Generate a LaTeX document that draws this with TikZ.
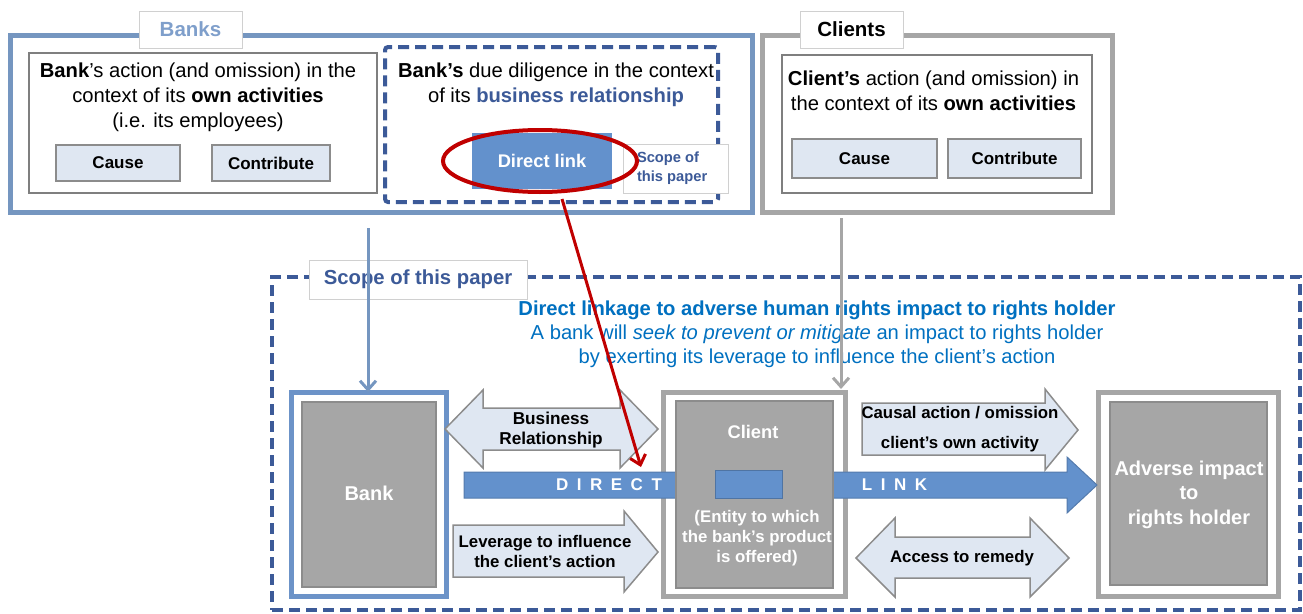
\documentclass[tikz,border=0pt]{standalone}
\usepackage{fontspec}
\setmainfont{Liberation Sans}
\usetikzlibrary{arrows.meta,calc}
\definecolor{frameblue}{HTML}{7596C0}
\definecolor{labelblue}{HTML}{7F9FCB}
\definecolor{dashblue}{HTML}{3C5A98}
\definecolor{titleblue}{HTML}{0070C0}
\definecolor{barblue}{HTML}{6391CC}
\definecolor{boxgray}{HTML}{A6A6A6}
\definecolor{innergray}{HTML}{7F7F7F}
\definecolor{lightfill}{HTML}{DFE7F2}
\definecolor{arrowedge}{HTML}{8C8C8C}
\definecolor{redc}{HTML}{C00000}
\definecolor{labelborder}{HTML}{D0D0D0}
\definecolor{bankblue}{HTML}{6C93C8}
\newcommand{\fsz}[2]{\fontsize{#1}{#2}\selectfont}
\newcommand{\lsp}{\hspace{8.5pt}}
\begin{document}
\begin{tikzpicture}[x=1pt,y=-1pt,
  every node/.style={inner sep=0pt, outer sep=0pt},
  frame/.style={draw, line width=5pt},
  tablabel/.style={draw=labelborder, line width=1pt, fill=white, font=\bfseries\fsz{20.5}{24}},
  innerbox/.style={draw=innergray, line width=2.5pt, fill=white},
  btn/.style={draw=arrowedge, line width=1.5pt, fill=lightfill, font=\bfseries\fsz{17}{20}},
  dashframe/.style={draw=dashblue, line width=4pt, dash pattern=on 11pt off 6pt},
  graybox/.style={fill=boxgray, draw=arrowedge, line width=1.2pt},
  whitetext/.style={text=white, font=\bfseries\fsz{19}{24}, align=center},
  blockarrow/.style={fill=lightfill, draw=arrowedge, line width=1.5pt},
  bartxt/.style={text=white, font=\bfseries\fsz{17}{20}},
  arrtxt/.style={font=\bfseries\fsz{16.8}{20}, align=center},
  bodytxt/.style={font=\fsz{20.2}{25}, align=center},
  tip/.style={-{Straight Barb[length=9pt,width=16pt,line width=3pt]}, line width=3pt}
]
\useasboundingbox (0,0) rectangle (1303,613);

% ---------------- top: Banks ----------------
\node[frame, draw=frameblue, minimum width=742, minimum height=177] (banksframe) at (381,123.5) {};
\node[tablabel, text=labelblue, minimum width=103, minimum height=37] (bankslabel) at (190.5,29.5) {Banks};

\node[innerbox, minimum width=348, minimum height=140] (bankown) at (203,123) {};
\node[bodytxt] (bankowntxt) at (198,97) {\textbf{Bank}’s action (and omission) in the\\context of its \textbf{own activities}\\(i.e. its employees)};
\node[btn, minimum width=124, minimum height=36] (bcause) at (118,163) {Cause};
\node[btn, minimum width=118, minimum height=36] (bcontrib) at (271,163) {Contribute};

\node[dashframe, fill=white, minimum width=333, minimum height=155, rounded corners=3pt] (duedil) at (551.5,124.5) {};
\node[bodytxt] (duediltxt) at (556,84.5) {\textbf{Bank’s} due diligence in the context\\of its \textcolor{dashblue}{\textbf{business relationship}}};
\node[fill=barblue, minimum width=140, minimum height=56, text=white, font=\bfseries\fsz{18.3}{20}] (dlink) at (542,161) {Direct link};
\node[draw=labelborder, line width=1pt, fill=white, minimum width=105, minimum height=49] (scopesmall) at (675.5,168.5) {};
\node[text=dashblue, font=\bfseries\fsz{14.7}{19}, align=left, anchor=west] (scopesmalltxt) at (637,168.5) {Scope of\\this paper};
\draw[redc, line width=4pt] (540,161) ellipse [x radius=97, y radius=31];
\node (dlinkring) at (540,161) {};

% ---------------- top: Clients ----------------
\node[frame, draw=boxgray, minimum width=350, minimum height=177] (clientsframe) at (937,123.5) {};
\node[tablabel, minimum width=103, minimum height=37] (clientslabel) at (851.5,29.5) {Clients};
\node[innerbox, minimum width=310, minimum height=138] (clientown) at (937,124) {};
\node[bodytxt] (clientowntxt) at (933.5,90.5) {\textbf{Client’s} action (and omission) in\\the context of its \textbf{own activities}};
\node[btn, minimum width=145, minimum height=39] (ccause) at (864.5,158.5) {Cause};
\node[btn, minimum width=133, minimum height=39] (ccontrib) at (1014.5,158.5) {Contribute};

% ---------------- bottom: scope ----------------
\node[dashframe, minimum width=1028, minimum height=333] (scope) at (786,443.5) {};
\node[draw=labelborder, line width=1pt, fill=white, minimum width=218, minimum height=39, text=dashblue, font=\bfseries\fsz{20.3}{24}] (scopelabel) at (418,279.5) {Scope of this paper};

\node[text=titleblue, font=\fsz{20.2}{24}, align=center] (title) at (817,334) {\textbf{Direct linkage to adverse human rights impact to rights holder}\\A bank will \textit{seek to prevent or mitigate} an impact to rights holder\\by exerting its leverage to influence the client’s action};

% outer frames
\node[frame, draw=bankblue, minimum width=155, minimum height=204] (bankframe) at (368.5,494) {};
\node[frame, draw=boxgray, minimum width=182, minimum height=204] (clientframe) at (754,494) {};
\node[frame, draw=boxgray, minimum width=180, minimum height=204] (impactframe) at (1188,494) {};

% block arrows
\draw[blockarrow] (445,429) -- (483,390) -- (483,408) -- (620,408) -- (620,390) -- (658,429) -- (620,468) -- (620,450) -- (483,450) -- (483,468) -- cycle;
\node[arrtxt, font=\bfseries\fsz{17.2}{20}] (brtxt) at (551,430) {Business\\Relationship};
\draw[blockarrow] (453,525) -- (624,525) -- (624,511) -- (658,552) -- (624,592) -- (624,577) -- (453,577) -- cycle;
\node[arrtxt] (levtxt) at (545,551) {Leverage to influence\\the client’s action};
\draw[blockarrow] (862,403) -- (1045,403) -- (1045,389) -- (1078,430) -- (1045,470) -- (1045,455) -- (862,455) -- cycle;
\node[arrtxt, font=\bfseries\fsz{16.8}{30}] (caustxt) at (960,429) {Causal action / omission\\client’s own activity};
\draw[blockarrow] (856,558) -- (895,518) -- (895,537) -- (1030,537) -- (1030,518) -- (1069,558) -- (1030,597) -- (1030,578) -- (895,578) -- (895,597) -- cycle;
\node[arrtxt] (accesstxt) at (962,558) {Access to remedy};

% DIRECT LINK bar
\draw[fill=barblue, draw=barblue!85!black, line width=1pt] (464,472) -- (1067,472) -- (1067,457) -- (1097,485) -- (1067,513) -- (1067,498) -- (464,498) -- cycle;
\node[bartxt] (directtxt) at (609,485) {D\lsp I\lsp R\lsp E\lsp C\lsp T};
\node[bartxt] (linktxt) at (894.5,485) {L\lsp I\lsp N\lsp K};

% inner gray boxes
\node[graybox, minimum width=134, minimum height=185] (bank) at (369,494.5) {};
\node[whitetext, font=\bfseries\fsz{20}{24}] (banktxt) at (369,493) {Bank};
\node[graybox, minimum width=157, minimum height=187] (client) at (754.5,494.5) {};
\node[whitetext, font=\bfseries\fsz{18.3}{24}] (clienttxt) at (753,432) {Client};
\node[fill=barblue, draw=barblue!80!black, line width=1pt, minimum width=67, minimum height=28] (entityrect) at (748.5,484) {};
\node[whitetext, font=\bfseries\fsz{16.8}{20}] (entitytxt) at (757,538) {(Entity to which\\the bank’s product\\is offered)};
\node[graybox, minimum width=157, minimum height=183] (impact) at (1188.5,493.5) {};
\node[whitetext, font=\bfseries\fsz{20}{24.5}] (impacttxt) at (1189,494.5) {Adverse impact\\to\\rights holder};

% connectors
\coordinate (bstart) at (368,228);
\coordinate (gstart) at (841,218);
\coordinate (gend) at (841,389);
\coordinate (rstart) at (562,199);
\coordinate (rend) at (641,467);
\draw[tip, frameblue] (bstart) -- (bstart |- bankframe.north);
\draw[tip, boxgray] (gstart) -- (gend);
\draw[tip, redc] (rstart) -- (rend);
\end{tikzpicture}
\end{document}
